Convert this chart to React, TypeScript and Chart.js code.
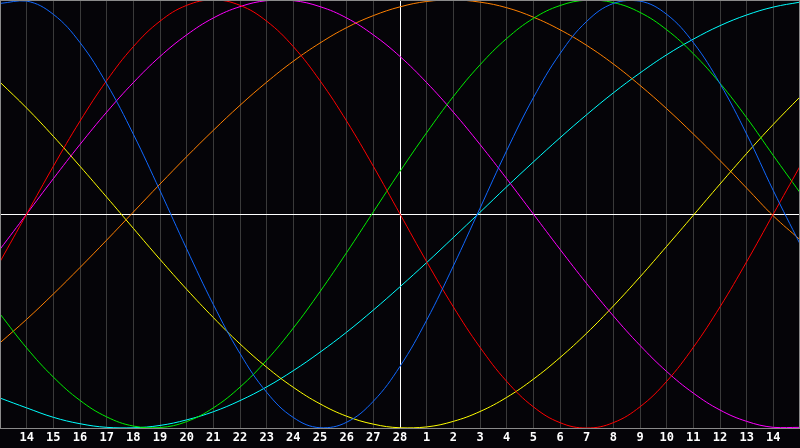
import React, { useRef, useEffect } from 'react';
import Chart from 'chart.js/auto';

// day labels along the bottom (first and last slots are unlabeled edges)
const dayLabels = [
  '', '14', '15', '16', '17', '18', '19', '20', '21', '22', '23', '24', '25', '26', '27', '28',
  '1', '2', '3', '4', '5', '6', '7', '8', '9', '10', '11', '12', '13', '14', '',
];
const todayIndex = 15;

// cycle values per day (-1 .. 1)
const blueValues = [
  0.984, 0.995, 0.933, 0.801, 0.609, 0.373, 0.109, -0.163, -0.423, -0.652, -0.833,
  -0.951, -0.999, -0.973, -0.875, -0.712, -0.496, -0.243, 0.027, 0.296, 0.543,
  0.749, 0.9, 0.984, 0.995, 0.933, 0.801, 0.609, 0.373, 0.109, -0.14,
];
const redValues = [
  -0.223, 0, 0.223, 0.434, 0.623, 0.782, 0.901, 0.975, 1, 0.975, 0.901,
  0.782, 0.623, 0.434, 0.223, 0, -0.223, -0.434, -0.623, -0.782, -0.901,
  -0.975, -1, -0.975, -0.901, -0.782, -0.623, -0.434, -0.223, 0, 0.223,
];
const greenValues = [
  -0.467, -0.626, -0.762, -0.871, -0.948, -0.991, -0.998, -0.97, -0.906, -0.809, -0.683,
  -0.533, -0.363, -0.18, 0.01, 0.199, 0.38, 0.549, 0.697, 0.82, 0.914,
  0.974, 0.999, 0.988, 0.942, 0.861, 0.749, 0.611, 0.45, 0.273, 0.1,
];
const magentaValues = [
  -0.165, 0, 0.165, 0.325, 0.476, 0.614, 0.736, 0.837, 0.916, 0.969, 0.997,
  0.997, 0.969, 0.916, 0.837, 0.736, 0.614, 0.476, 0.325, 0.165, 0,
  -0.165, -0.325, -0.476, -0.614, -0.736, -0.837, -0.916, -0.969, -0.997, -0.997,
];
const yellowValues = [
  0.616, 0.495, 0.363, 0.223, 0.079, -0.067, -0.212, -0.352, -0.484, -0.607, -0.716,
  -0.81, -0.887, -0.945, -0.982, -0.999, -0.995, -0.969, -0.923, -0.857, -0.772,
  -0.671, -0.557, -0.43, -0.294, -0.151, -0.006, 0.14, 0.283, 0.419, 0.547,
];
const orangeValues = [
  -0.602, -0.492, -0.374, -0.25, -0.122, 0.009, 0.14, 0.268, 0.391, 0.508, 0.616,
  0.714, 0.799, 0.871, 0.927, 0.968, 0.993, 1, 0.99, 0.964, 0.92,
  0.861, 0.788, 0.701, 0.601, 0.492, 0.374, 0.25, 0.121, -0.009, -0.12,
];
const cyanValues = [
  -0.86, -0.906, -0.95, -0.98, -0.997, -0.999, -0.988, -0.962, -0.924, -0.872, -0.808,
  -0.732, -0.646, -0.552, -0.449, -0.34, -0.227, -0.11, 0.008, 0.127, 0.243,
  0.356, 0.464, 0.566, 0.659, 0.744, 0.817, 0.88, 0.93, 0.967, 0.99,
];

const series = [
  { name: 'blue', data: blueValues, color: '#1068ff' },
  { name: 'red', data: redValues, color: '#ff0000' },
  { name: 'green', data: greenValues, color: '#00ee00' },
  { name: 'magenta', data: magentaValues, color: '#ff00ff' },
  { name: 'yellow', data: yellowValues, color: '#ffff00' },
  { name: 'orange', data: orangeValues, color: '#ff8000' },
  { name: 'cyan', data: cyanValues, color: '#00ffff' },
];

const backdrop = {
  id: 'backdrop',
  beforeDraw(chart: Chart) {
    const { ctx, width, height } = chart;
    ctx.save();
    ctx.fillStyle = '#050408';
    ctx.fillRect(0, 0, width, height);
    ctx.restore();
  },
  afterDraw(chart: Chart) {
    const { ctx, chartArea } = chart;
    ctx.save();
    ctx.strokeStyle = '#8a8a8a';
    ctx.lineWidth = 1;
    ctx.strokeRect(
      chartArea.left + 0.5,
      chartArea.top + 0.5,
      chartArea.right - chartArea.left - 1,
      chartArea.bottom - chartArea.top
    );
    ctx.restore();
  },
};

const BiorhythmChart: React.FC = () => {
  const canvasRef = useRef<HTMLCanvasElement>(null);
  const chartInstance = useRef<Chart | null>(null);

  useEffect(() => {
    document.body.style.margin = '0';
    if (!canvasRef.current) return;
    const ctx = canvasRef.current.getContext('2d');
    if (!ctx) return;

    if (chartInstance.current) {
      chartInstance.current.destroy();
    }

    chartInstance.current = new Chart(ctx, {
      type: 'line',
      data: {
        labels: dayLabels,
        datasets: series.map((s) => ({
          label: s.name,
          data: s.data,
          borderColor: s.color,
          borderWidth: 1,
          pointRadius: 0,
          pointHoverRadius: 0,
          tension: 0.4,
          fill: false,
        })),
      },
      options: {
        responsive: true,
        maintainAspectRatio: false,
        animation: false,
        layout: { padding: 0, autoPadding: false },
        plugins: {
          legend: { display: false },
          title: { display: false },
          tooltip: { enabled: false },
        },
        scales: {
          x: {
            grid: {
              color: (c) => (c.index === todayIndex ? '#ffffff' : '#3a3a3a'),
              drawTicks: false,
            },
            border: { display: false },
            ticks: {
              autoSkip: false,
              maxRotation: 0,
              color: '#ffffff',
              padding: 0,
              font: {
                family: '"DejaVu Sans Mono", monospace',
                size: 12,
                weight: 'bold',
                lineHeight: '20px',
              },
            },
          },
          y: {
            min: -1,
            max: 1,
            grid: {
              color: (c) => (c.tick.value === 0 ? '#ffffff' : 'rgba(0,0,0,0)'),
              drawTicks: false,
            },
            border: { display: false },
            ticks: { display: false, stepSize: 1 },
          },
        },
      },
      plugins: [backdrop],
    });

    return () => {
      if (chartInstance.current) {
        chartInstance.current.destroy();
        chartInstance.current = null;
      }
    };
  }, []);

  return (
    <div style={{ position: 'relative', height: '448px', width: '800px', background: '#050408' }}>
      <canvas ref={canvasRef} />
    </div>
  );
};

export default function App() {
  return <BiorhythmChart />;
}
